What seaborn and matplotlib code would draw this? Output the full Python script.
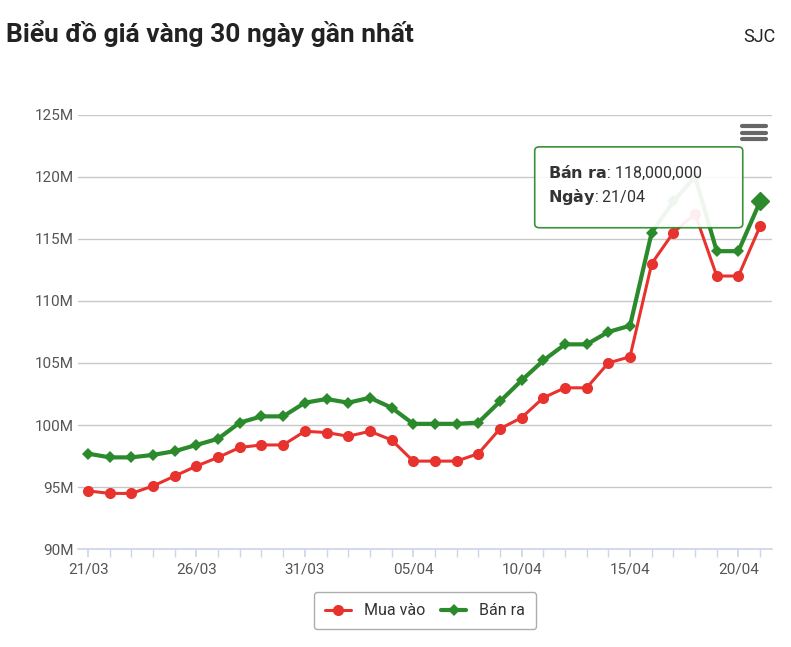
import matplotlib
matplotlib.use('Agg')
import matplotlib.pyplot as plt
import seaborn as sns
import pandas as pd
from matplotlib.patches import FancyBboxPatch

dates = ['21/03', '22/03', '23/03', '24/03', '25/03', '26/03', '27/03', '28/03', '29/03', '30/03',
         '31/03', '01/04', '02/04', '03/04', '04/04', '05/04', '06/04', '07/04', '08/04', '09/04',
         '10/04', '11/04', '12/04', '13/04', '14/04', '15/04', '16/04', '17/04', '18/04', '19/04',
         '20/04', '21/04']
mua_vao = [94.7, 94.5, 94.5, 95.1, 95.9, 96.7, 97.4, 98.2, 98.4, 98.4, 99.5, 99.4, 99.1, 99.5, 98.8, 97.1,
           97.1, 97.1, 97.7, 99.7, 100.6, 102.2, 103.0, 103.0, 105.0, 105.5, 113.0, 115.5, 117.0, 112.0,
           112.0, 116.0]
ban_ra = [97.7, 97.4, 97.4, 97.6, 97.9, 98.4, 98.9, 100.2, 100.7, 100.7, 101.8, 102.1, 101.8, 102.2, 101.4, 100.1,
          100.1, 100.1, 100.2, 101.9, 103.6, 105.2, 106.5, 106.5, 107.5, 108.0, 115.5, 118.0, 120.0, 114.0,
          114.0, 118.0]
yticks = [90, 95, 100, 105, 110, 115, 120, 125]

df = pd.DataFrame({'i': range(len(dates)), 'mua': mua_vao, 'ban': ban_ra})

sns.set_theme(style="white")
plt.rcParams['font.family'] = ['Roboto', 'DejaVu Sans']
fig = plt.figure(figsize=(7.91, 6.47), dpi=100)
ax = fig.add_axes([0.099, 0.151, 0.877, 0.672])

sns.lineplot(data=df, x='i', y='mua', ax=ax, color='#e8322d', lw=2.2, marker='o', markersize=8,
             markeredgewidth=0, label='Mua vào')
sns.lineplot(data=df, x='i', y='ban', ax=ax, color='#2b8a2b', lw=3, marker='D', markersize=6,
             markeredgewidth=0, label='Bán ra')
ax.plot([31], [118], marker='D', color='#2b8a2b', markersize=9)

ax.set_xlim(-0.45, 31.55)
ax.set_ylim(90, 125)
ax.set_yticks(yticks)
ax.set_yticklabels([f'{v}M' for v in yticks], color='#555555', fontsize=11)
ax.yaxis.grid(True, color='#c8c8c8', lw=1)
ax.set_xticks(range(0, 32, 5))
ax.set_xticklabels([dates[k] for k in range(0, 32, 5)], color='#555555', fontsize=11)
ax.set_xticks(range(32), minor=True)
ax.tick_params(axis='x', which='both', direction='out', length=6, color='#ccd6eb', bottom=True)
ax.tick_params(axis='y', length=0)
ax.set_xlabel('')
ax.set_ylabel('')
for s in ['top', 'right', 'left']:
    ax.spines[s].set_visible(False)
ax.spines['bottom'].set_color('#ccd6eb')

leg = ax.legend(loc='upper center', bbox_to_anchor=(0.5, -0.08), ncol=2, frameon=True,
                fontsize=11.5, handlelength=1.6, columnspacing=1.0, borderpad=0.7, fancybox=True)
leg.get_frame().set_edgecolor('#999999')
for t in leg.get_texts():
    t.set_color('#333333')

fig.text(0.008, 0.935, 'Biểu đồ giá vàng 30 ngày gần nhất', fontsize=19, fontweight='bold', color='#222222')
fig.text(0.94, 0.935, 'SJC', fontsize=13, color='#222222')

# hamburger menu icon
for yy in [0.805, 0.795, 0.785]:
    fig.add_artist(plt.Line2D([0.938, 0.968], [yy, yy], color='#666666', lw=3, transform=fig.transFigure))

# tooltip
box = FancyBboxPatch((0.679, 0.651), 0.257, 0.119, boxstyle='round,pad=0.003,rounding_size=0.006',
                     transform=fig.transFigure, facecolor='white', edgecolor='#2b8a2b', lw=1.2, alpha=0.93)
fig.add_artist(box)
fig.text(0.693, 0.733, r'$\bf{Bán\ ra}$: 118,000,000', fontsize=11.5, color='#333333', va='center')
fig.text(0.693, 0.695, r'$\bf{Ngày}$: 21/04', fontsize=11.5, color='#333333', va='center')

fig.savefig('out.png', dpi=100)
